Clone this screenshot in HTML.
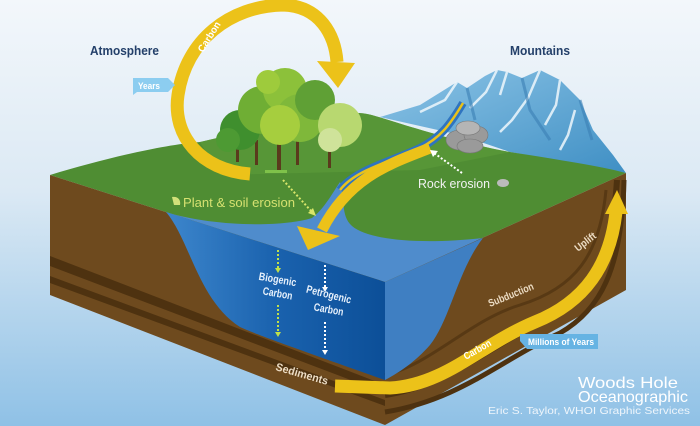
<!DOCTYPE html>
<html><head><meta charset="utf-8"><style>
html,body{margin:0;padding:0;width:700px;height:426px;overflow:hidden}
svg{display:block}
text{font-family:"Liberation Sans",sans-serif;font-weight:bold}
</style></head><body>
<svg width="700" height="426" viewBox="0 0 700 426" xmlns="http://www.w3.org/2000/svg">
<defs>
<linearGradient id="bg" x1="0" y1="0" x2="0" y2="1">
<stop offset="0" stop-color="#f3f7fb"/><stop offset="0.45" stop-color="#dbe9f4"/><stop offset="1" stop-color="#8fc1e6"/></linearGradient>
<linearGradient id="wf" x1="0" y1="0" x2="1" y2="0">
<stop offset="0" stop-color="#3d86cc"/><stop offset="0.5" stop-color="#1a62ae"/><stop offset="1" stop-color="#0c4f98"/></linearGradient>
<linearGradient id="mt" x1="0" y1="0" x2="1" y2="1">
<stop offset="0" stop-color="#8cc4e6"/><stop offset="1" stop-color="#3f8fc4"/></linearGradient>
</defs>
<rect width="700" height="426" fill="url(#bg)"/>

<!-- mountain -->
<polygon points="380,117 420,105 457,82 467,88 485,76 497,70 507,72 522,78 540,70 560,80 580,100 593,130 613,155 626,173 580,165 510,152 460,135" fill="url(#mt)"/>
<path d="M457,82 L445,100 L420,112 M497,70 L486,92 L470,108 M507,72 L500,95 M540,70 L528,98 L512,120 L500,132 M560,80 L556,105 L545,125 M575,110 L568,135 L560,150" stroke="#eef7fc" stroke-width="2.5" fill="none" opacity="0.85"/>
<path d="M522,78 L530,110 L550,140 M580,100 L592,140 M467,88 L475,120" stroke="#3a7fb4" stroke-width="3" fill="none" opacity="0.6"/>

<!-- top green face -->
<path d="M50,175 C100,160 160,145 200,142 C260,128 320,114 350,113 C365,112 375,116 382,118 C420,130 470,145 510,152 C560,160 600,166 626,173 L385,282 Z" fill="#4f8d33"/>
<path d="M200,142 C260,128 320,114 350,113 C365,112 375,116 382,118 C420,130 470,145 510,152 L420,170 L220,175 Z" fill="#5d9c3a" opacity="0.6"/>

<!-- water top surface -->
<path d="M166,212 C210,226 280,228 312,218 C325,208 333,192 340,182 C346,200 340,215 352,226 C368,240 420,245 483,238 L385,282 Z" fill="#4f8ccc"/>
<!-- river -->
<path d="M463,103 C450,125 440,138 420,148 C390,162 355,170 340,190" stroke="#2f74c0" stroke-width="8" fill="none"/>
<path d="M463,103 C450,125 440,138 420,148 C390,162 355,170 340,190" stroke="#e9c21a" stroke-width="2.5" fill="none"/>

<!-- left face -->
<polygon points="50,175 385,282 385,425 50,295" fill="#6e4a1e"/>
<polygon points="50,256 385,385 385,393 50,266" fill="#4e3210"/>
<polygon points="50,276 385,400 385,406 50,283" fill="#4e3210"/>
<!-- water left/front face -->
<path d="M166,212 C190,240 198,300 240,327 C255,334 300,350 385,380 L385,282 Z" fill="url(#wf)"/>

<!-- right face -->
<polygon points="385,282 626,173 626,290 385,425" fill="#6e4a1e"/>
<path d="M385,395 C450,385 490,345 540,323 C590,300 612,260 617,180" stroke="#4e3210" stroke-width="6" fill="none"/>
<path d="M385,412 C460,400 500,360 560,333 C600,310 622,270 624,180" stroke="#4e3210" stroke-width="5" fill="none"/>
<path d="M385,375 C430,365 470,320 520,305 C575,288 600,255 606,190" stroke="#4e3210" stroke-width="3" fill="none" opacity="0.7"/>
<!-- water right face -->
<path d="M385,282 L483,238 C458,270 450,320 430,345 C415,362 400,372 385,380 Z" fill="#3f7fc2"/>

<!-- trees -->
<g fill="#5a3a1c">
<rect x="236" y="140" width="3" height="22"/><rect x="255" y="140" width="3" height="25"/>
<rect x="277" y="140" width="4" height="30"/><rect x="296" y="140" width="3" height="25"/><rect x="328" y="140" width="3" height="28"/>
</g>
<g>
<circle cx="240" cy="130" r="20" fill="#3f8f2e"/>
<circle cx="262" cy="110" r="24" fill="#6fae34"/>
<circle cx="285" cy="90" r="22" fill="#8cc13a"/>
<circle cx="300" cy="118" r="24" fill="#7fb83a"/>
<circle cx="280" cy="125" r="20" fill="#a6ce3e"/>
<circle cx="315" cy="100" r="20" fill="#5fa035"/>
<circle cx="340" cy="125" r="22" fill="#b8d870"/>
<circle cx="330" cy="140" r="12" fill="#cfe39a"/>
<circle cx="268" cy="82" r="12" fill="#9ecb3c"/>
<circle cx="228" cy="140" r="12" fill="#4d9a33"/>
</g>
<rect x="265" y="170" width="22" height="3" fill="#7fc24a"/>

<!-- rocks -->
<g fill="#9a9a9a" stroke="#777" stroke-width="0.6">
<ellipse cx="460" cy="140" rx="14" ry="10"/><ellipse cx="476" cy="135" rx="12" ry="9"/>
<ellipse cx="468" cy="128" rx="12" ry="7" fill="#b5b5b5"/><ellipse cx="470" cy="146" rx="13" ry="7"/>
</g>

<!-- atmosphere carbon arrow -->
<path d="M250,174 C200,170 172,135 178,95 C186,40 230,6 283,5 C320,6 335,35 337,62" stroke="#ecc219" stroke-width="13" fill="none"/>
<polygon points="317,61 355,63 338,88" fill="#ecc219"/>
<text x="0" y="0" font-size="10" fill="#fff" textLength="34" lengthAdjust="spacingAndGlyphs" transform="translate(203,53) rotate(-58)">Carbon</text>

<!-- river carbon arrow -->
<path d="M430,148 C395,162 350,175 322,230" stroke="#ecc219" stroke-width="11" fill="none"/>
<polygon points="297,226 340,236 308,250" fill="#ecc219"/>

<!-- lower carbon arrow -->
<path d="M335,386 L390,388 C445,385 480,345 535,322 C585,302 610,265 616,212" stroke="#ecc219" stroke-width="13" fill="none"/>
<polygon points="605,214 628,214 617,190" fill="#ecc219"/>
<text font-size="10" fill="#fff" textLength="30" lengthAdjust="spacingAndGlyphs" transform="translate(466,360) rotate(-30)">Carbon</text>

<!-- dotted arrows -->
<g stroke-dasharray="2 2" fill="none" stroke-width="2">
<path d="M283,180 L312,212" stroke="#d9e66a"/>
<path d="M278,250 L278,268" stroke="#bfe04a"/>
<path d="M278,305 L278,332" stroke="#bfe04a"/>
<path d="M325,265 L325,287" stroke="#fff"/>
<path d="M325,322 L325,350" stroke="#fff"/>
<path d="M462,173 L434,153" stroke="#fff"/>
</g>
<polygon points="308,213 316,216 313,208" fill="#d9e66a"/>
<polygon points="275,268 281,268 278,273" fill="#bfe04a"/>
<polygon points="275,332 281,332 278,337" fill="#bfe04a"/>
<polygon points="322,287 328,287 325,292" fill="#fff"/>
<polygon points="322,350 328,350 325,355" fill="#fff"/>
<polygon points="430,150 438,151 433,157" fill="#fff"/>

<!-- labels -->
<text x="90" y="55" font-size="13" fill="#24406a" textLength="69" lengthAdjust="spacingAndGlyphs">Atmosphere</text>
<text x="510" y="55" font-size="13" fill="#24406a" textLength="60" lengthAdjust="spacingAndGlyphs">Mountains</text>
<polygon points="133,78 168,78 175,85 168,92 137,92 133,95" fill="#8ccdf0"/>
<text x="138" y="89" font-size="9" fill="#fff" textLength="22" lengthAdjust="spacingAndGlyphs">Years</text>
<polygon points="520,334 598,334 598,349 527,349 520,341" fill="#66b3e3"/>
<text x="528" y="345" font-size="9.5" fill="#fff" textLength="66" lengthAdjust="spacingAndGlyphs">Millions of Years</text>
<path d="M172,197 C178,196 181,200 180,205 L174,205 Z" fill="#d2e07a"/>
<text x="183" y="207" font-size="13" fill="#d6e170" style="font-weight:normal" textLength="112" lengthAdjust="spacingAndGlyphs">Plant &amp; soil erosion</text>
<text x="418" y="188" font-size="13" fill="#f2f2f2" style="font-weight:normal" textLength="72" lengthAdjust="spacingAndGlyphs">Rock erosion</text>
<ellipse cx="503" cy="183" rx="6" ry="4" fill="#bbb"/>
<text x="277" y="283" font-size="11" fill="#e6f0fb" text-anchor="middle" textLength="38" lengthAdjust="spacingAndGlyphs" transform="rotate(10 277 283)">Biogenic</text>
<text x="277" y="297" font-size="11" fill="#e6f0fb" text-anchor="middle" textLength="30" lengthAdjust="spacingAndGlyphs" transform="rotate(10 277 297)">Carbon</text>
<text x="328" y="298" font-size="11" fill="#e6f0fb" text-anchor="middle" textLength="46" lengthAdjust="spacingAndGlyphs" transform="rotate(14 328 298)">Petrogenic</text>
<text x="328" y="313" font-size="11" fill="#e6f0fb" text-anchor="middle" textLength="30" lengthAdjust="spacingAndGlyphs" transform="rotate(10 328 313)">Carbon</text>
<text font-size="11" fill="#ecdcc4" textLength="54" lengthAdjust="spacingAndGlyphs" transform="translate(275,370) rotate(16)">Sediments</text>
<text font-size="10.5" fill="#ecdcc4" textLength="48" lengthAdjust="spacingAndGlyphs" transform="translate(490,307) rotate(-22)">Subduction</text>
<text font-size="10.5" fill="#ecdcc4" textLength="24" lengthAdjust="spacingAndGlyphs" transform="translate(578,252) rotate(-38)">Uplift</text>
<text x="578" y="388" font-size="16" fill="#fff" style="font-weight:normal" textLength="100" lengthAdjust="spacingAndGlyphs">Woods Hole</text>
<text x="578" y="402" font-size="16" fill="#fff" style="font-weight:normal" textLength="110" lengthAdjust="spacingAndGlyphs">Oceanographic</text>
<text x="488" y="414" font-size="10" fill="#eef5fb" style="font-weight:normal" textLength="202" lengthAdjust="spacingAndGlyphs">Eric S. Taylor, WHOI Graphic Services</text>
</svg>
</body></html>
